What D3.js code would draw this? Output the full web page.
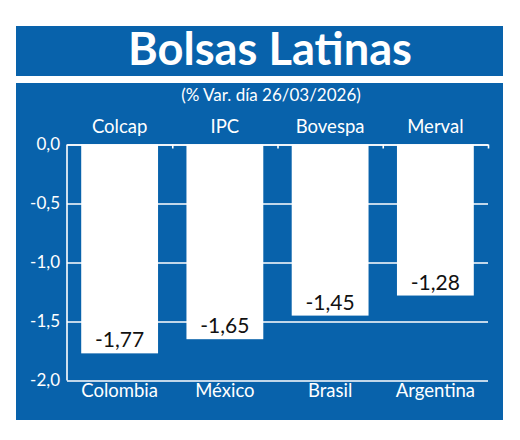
<!DOCTYPE html>
<html>
<head>
<meta charset="utf-8">
<script src="https://cdn.jsdelivr.net/npm/d3@7"></script>
<style>
  body { margin: 0; background: #fff; }
  text { font-family: Lato, "Open Sans", sans-serif; }
</style>
</head>
<body>
<div id="chart"></div>
<script>
// chart data
var indices = ["Colcap", "IPC", "Bovespa", "Merval"];
var countries = ["Colombia", "México", "Brasil", "Argentina"];
var changes = [-1.77, -1.65, -1.45, -1.28];
var yTicks = [0, -0.5, -1, -1.5, -2];
var title = "Bolsas Latinas";
var subtitle = "(% Var. día 26/03/2026)";

var blue = "#0862ab";
var W = 520, H = 440;
var plot = {left: 67, right: 488, top: 144.5, bottom: 380.5};

var fmt = function(v) { return d3.format(".2f")(v).replace("−", "-").replace(".", ","); };
var fmt1 = function(v) { return d3.format(".1f")(v).replace("−", "-").replace(".", ","); };

var svg = d3.select("#chart").append("svg")
    .attr("width", W)
    .attr("height", H);

svg.append("rect").attr("width", W).attr("height", H).attr("fill", "#fff");

// header band + panel
svg.append("rect")
    .attr("x", 16).attr("y", 26).attr("width", 487).attr("height", 50)
    .attr("fill", blue);
svg.append("rect")
    .attr("x", 16).attr("y", 83).attr("width", 487).attr("height", 337)
    .attr("fill", blue);

svg.append("text")
    .attr("x", 270).attr("y", 65)
    .attr("text-anchor", "middle")
    .attr("fill", "#fff")
    .attr("font-weight", "bold")
    .attr("font-size", 45)
    .attr("textLength", 284)
    .attr("lengthAdjust", "spacingAndGlyphs")
    .text(title);

svg.append("text")
    .attr("x", 271).attr("y", 101)
    .attr("text-anchor", "middle")
    .attr("fill", "#fff")
    .attr("font-size", 17)
    .text(subtitle);

// scales
var x = d3.scaleBand()
    .domain(indices)
    .range([plot.left, plot.right])
    .paddingInner(0.27)
    .paddingOuter(0.135);

var y = d3.scaleLinear()
    .domain([-2, 0])
    .range([plot.bottom, plot.top]);

// gridlines + y labels
var yAxis = svg.append("g")
    .attr("transform", "translate(" + plot.left + ",0)")
    .call(d3.axisLeft(y)
        .tickValues(yTicks)
        .tickSize(-(plot.right - plot.left))
        .tickPadding(7)
        .tickFormat(fmt1));
yAxis.select(".domain").remove();
yAxis.selectAll("line").attr("stroke", "#fff").attr("stroke-width", 1.6);
yAxis.selectAll("text")
    .attr("fill", "#fff")
    .attr("font-size", 17)
    .attr("font-family", "Lato, sans-serif");

// bars
svg.append("g")
  .selectAll("rect")
  .data(changes)
  .enter()
  .append("rect")
    .attr("x", function(d, i) { return x(indices[i]); })
    .attr("y", y(0))
    .attr("width", x.bandwidth())
    .attr("height", function(d) { return y(d) - y(0); })
    .attr("fill", "#fff");

// top axis line with small ticks at band boundaries
var edge = d3.scaleLinear().domain([0, indices.length]).range([plot.left, plot.right]);
var topAxis = svg.append("g")
    .attr("transform", "translate(0," + y(0) + ")")
    .call(d3.axisBottom(edge).tickValues([1, 2, 3, 4]).tickSize(4).tickSizeOuter(0).tickFormat(""));
topAxis.selectAll("line").attr("stroke", "#fff").attr("stroke-width", 1.6);
topAxis.select(".domain").attr("stroke", "#fff").attr("stroke-width", 1.6);

// left axis line
svg.append("line")
    .attr("x1", plot.left).attr("x2", plot.left)
    .attr("y1", y(0)).attr("y2", y(-2))
    .attr("stroke", "#fff").attr("stroke-width", 1.6);

// value labels inside bars
svg.append("g")
  .selectAll("text")
  .data(changes)
  .enter()
  .append("text")
    .attr("x", function(d, i) { return x(indices[i]) + x.bandwidth() / 2; })
    .attr("y", function(d) { return y(d) - 6; })
    .attr("text-anchor", "middle")
    .attr("font-size", 21)
    .attr("fill", "#111")
    .text(fmt);

// index names above, countries below
svg.append("g")
  .selectAll("text")
  .data(indices)
  .enter()
  .append("text")
    .attr("x", function(d) { return x(d) + x.bandwidth() / 2; })
    .attr("y", 133)
    .attr("text-anchor", "middle")
    .attr("font-size", 18.5)
    .attr("fill", "#fff")
    .text(function(d) { return d; });

svg.append("g")
  .selectAll("text")
  .data(countries)
  .enter()
  .append("text")
    .attr("x", function(d, i) { return x(indices[i]) + x.bandwidth() / 2; })
    .attr("y", 397)
    .attr("text-anchor", "middle")
    .attr("font-size", 18.5)
    .attr("fill", "#fff")
    .text(function(d) { return d; });
</script>
</body>
</html>
